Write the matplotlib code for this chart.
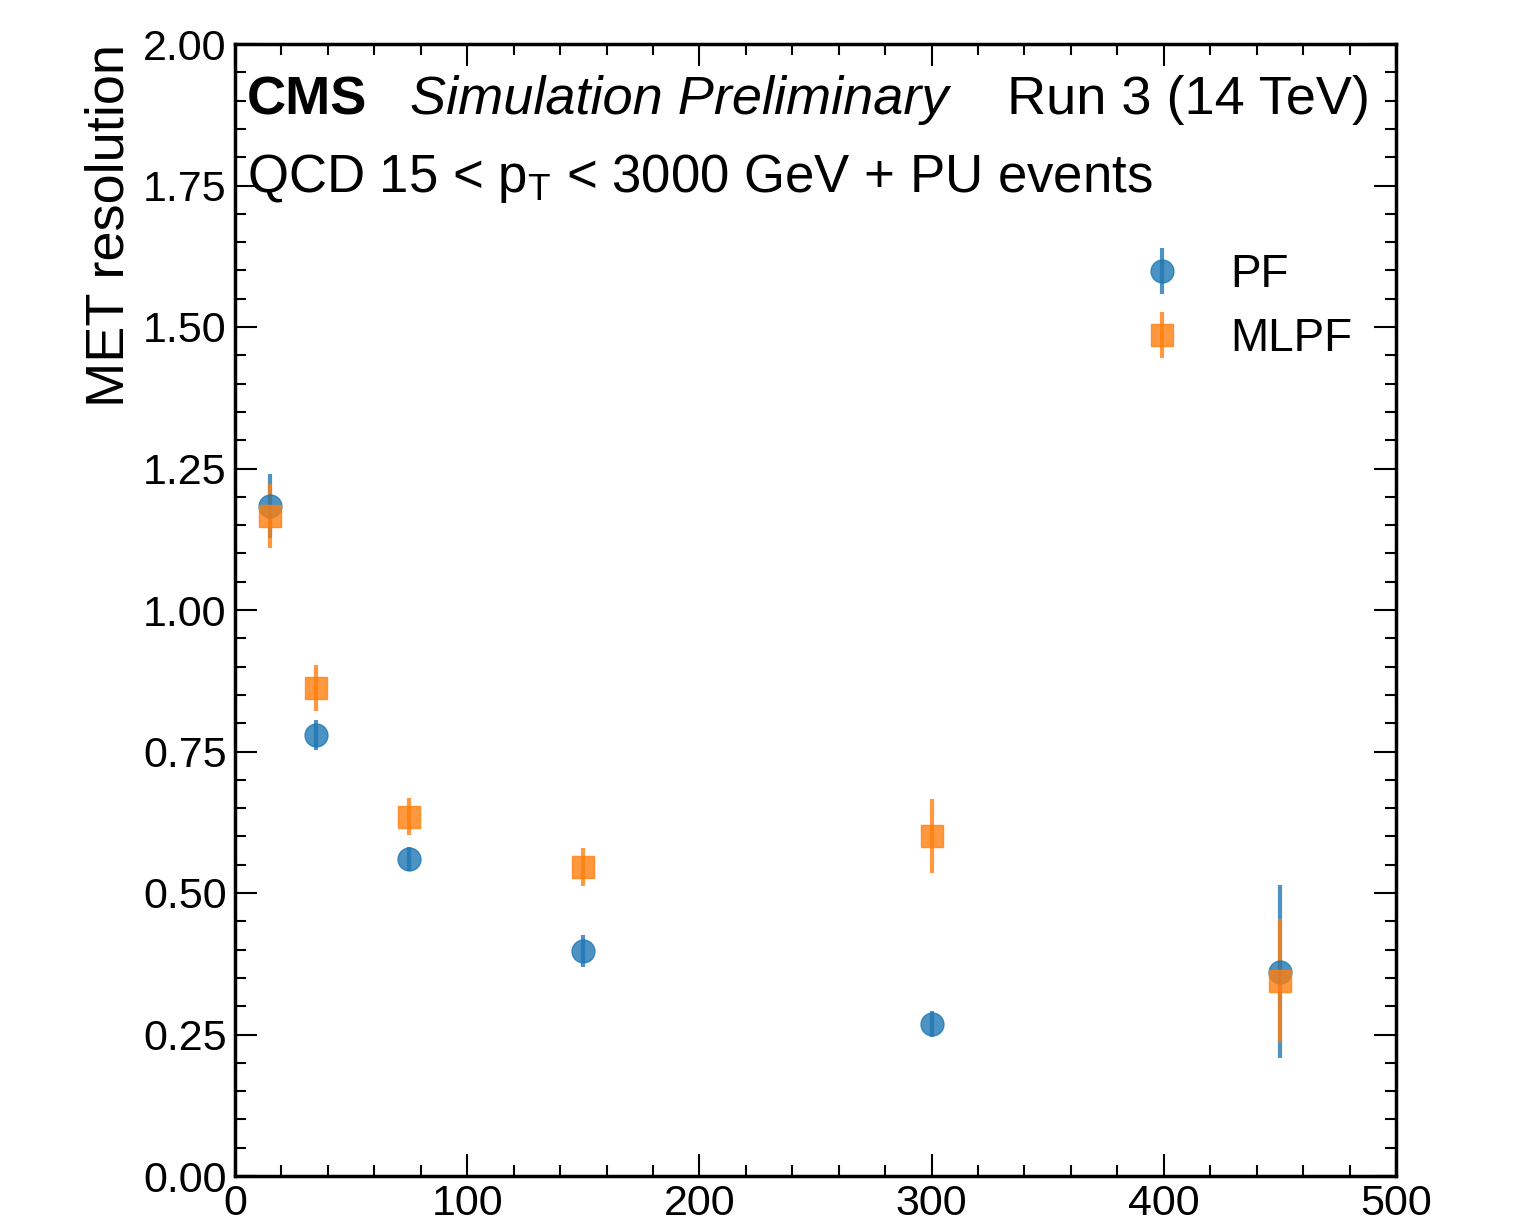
import matplotlib
matplotlib.use("Agg")
import matplotlib.pyplot as plt
from matplotlib.ticker import MultipleLocator

plt.rcParams['font.family'] = ['Liberation Sans', 'DejaVu Sans']
plt.rcParams['mathtext.fontset'] = 'custom'
plt.rcParams['mathtext.rm'] = 'Liberation Sans'
plt.rcParams['mathtext.it'] = 'Liberation Sans:italic'
plt.rcParams['mathtext.default'] = 'regular'

# binned gen-pT centres and MET resolution
pt_bins = [15, 35, 75, 150, 300, 450]
pf_res = [1.184, 0.779, 0.560, 0.398, 0.269, 0.361]
pf_err = [0.056, 0.027, 0.022, 0.028, 0.023, 0.153]
mlpf_res = [1.166, 0.862, 0.635, 0.546, 0.601, 0.345]
mlpf_err = [0.057, 0.041, 0.033, 0.033, 0.065, 0.109]

fig = plt.figure(figsize=(15.13, 12.30), dpi=100)
ax = fig.add_axes([235 / 1513, 1 - 1176 / 1230, (1396 - 235) / 1513, (1176 - 44) / 1230])

ax.errorbar(pt_bins, pf_res, yerr=pf_err, marker='o', ms=16.5, ls='none',
            elinewidth=3, color='#1f77b4', alpha=0.8, label='PF')
ax.errorbar(pt_bins, mlpf_res, yerr=mlpf_err, marker='s', ms=16.5, ls='none',
            elinewidth=3, color='#ff7f0e', alpha=0.8, label='MLPF')

ax.set_xlim(0, 500)
ax.set_ylim(0, 2)
ax.xaxis.set_major_locator(MultipleLocator(100))
ax.xaxis.set_minor_locator(MultipleLocator(20))
ax.yaxis.set_major_locator(MultipleLocator(0.25))
ax.yaxis.set_minor_locator(MultipleLocator(0.05))
ax.yaxis.set_major_formatter(matplotlib.ticker.FormatStrFormatter('%.2f'))
ax.tick_params(which='both', direction='in', top=True, right=True, labelsize=31, width=1.5)
ax.tick_params(which='major', length=16, pad=6)
ax.tick_params(which='minor', length=8)
for s in ax.spines.values():
    s.set_linewidth(2.5)

ax.set_ylabel('MET resolution', fontsize=39, loc='top', labelpad=6)

ax.text(0.01, 0.938, 'CMS', transform=ax.transAxes, fontsize=39, fontweight='bold', va='baseline')
ax.text(0.151, 0.938, 'Simulation Preliminary', transform=ax.transAxes, fontsize=39,
        style='italic', va='baseline')
ax.text(0.978, 0.938, 'Run 3 (14 TeV)', transform=ax.transAxes, fontsize=39, ha='right',
        va='baseline')
ax.text(0.01, 0.869, 'QCD 15 < $p_T$ < 3000 GeV + PU events', transform=ax.transAxes,
        fontsize=38, va='baseline')

ax.legend(loc='upper right', bbox_to_anchor=(0.998, 0.852), frameon=False, fontsize=33,
          handletextpad=0.5, labelspacing=0.45)

fig.savefig('out.png', dpi=100)
